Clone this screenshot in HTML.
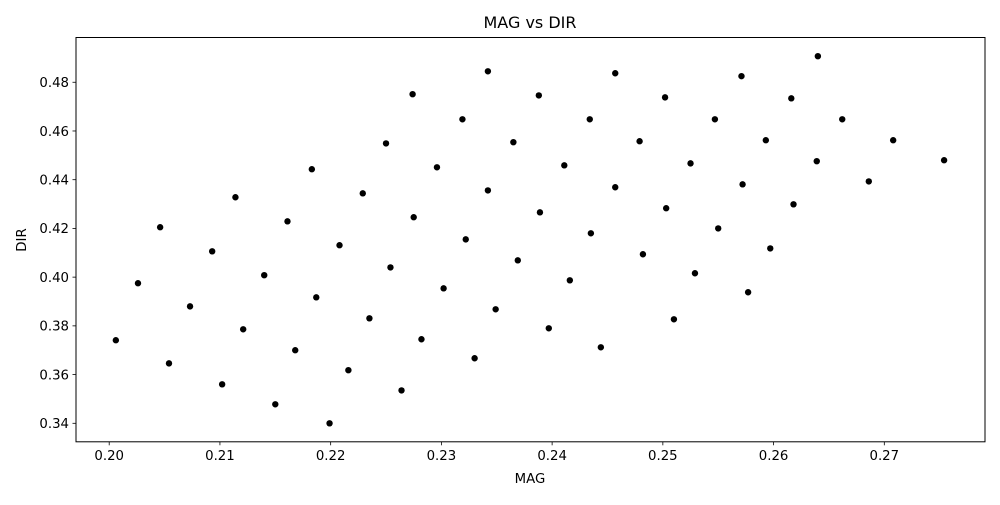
<!DOCTYPE html>
<html><head><meta charset="utf-8"><style>
html,body{margin:0;padding:0;background:#fff;}
svg text{font-family:"DejaVu Sans","Liberation Sans",sans-serif;fill:#000;}
</style></head>
<body>
<svg id="chart" width="1000" height="500" viewBox="0 0 1000 500" xmlns="http://www.w3.org/2000/svg">
<rect x="0" y="0" width="1000" height="500" fill="#fff"/>
<text x="530" y="28" font-size="16" text-anchor="middle">MAG vs DIR</text>
<g id="xticks"></g>
<g id="yticks"></g>
<g id="points"></g>
<rect x="76" y="37.5" width="909" height="404.3" fill="none" stroke="#000" stroke-width="1"/>
<text x="530" y="483" font-size="13.3" text-anchor="middle">MAG</text>
<text x="0" y="0" font-size="13.3" text-anchor="middle" transform="translate(26,240) rotate(-90)">DIR</text>
</svg>
<script>
const xTickValues = [0.20,0.21,0.22,0.23,0.24,0.25,0.26,0.27];
const xTickLabels = ["0.20","0.21","0.22","0.23","0.24","0.25","0.26","0.27"];
const yTickValues = [0.34,0.36,0.38,0.40,0.42,0.44,0.46,0.48];
const yTickLabels = ["0.34","0.36","0.38","0.40","0.42","0.44","0.46","0.48"];
const magValues = [0.2183,0.2229,0.2114,0.2161,0.2046,0.2208,0.2093,0.2140,0.2026,0.2187,0.2073,0.2235,0.2121,0.2006,0.2168,0.2054,0.2216,0.2102,0.2150,0.2199,
0.2342,0.2457,0.2274,0.2388,0.2502,0.2319,0.2434,0.2250,0.2365,0.2479,0.2525,0.2296,0.2411,0.2342,0.2457,0.2275,0.2389,0.2503,0.2322,0.2435,0.2254,0.2369,0.2482,0.2302,0.2416,0.2349,0.2510,0.2282,0.2397,0.2330,0.2444,0.2264,
0.2640,0.2571,0.2616,0.2547,0.2662,0.2593,0.2708,0.2639,0.2754,0.2572,0.2686,0.2618,0.2550,0.2597,0.2529,0.2577];
const dirValues = [0.4443,0.4344,0.4328,0.4229,0.4205,0.4131,0.4106,0.4008,0.3975,0.3917,0.3880,0.3831,0.3786,0.3741,0.3700,0.3646,0.3618,0.3560,0.3478,0.3400,
0.4845,0.4837,0.4751,0.4746,0.4738,0.4648,0.4648,0.4549,0.4554,0.4558,0.4467,0.4451,0.4459,0.4356,0.4369,0.4246,0.4266,0.4283,0.4155,0.4180,0.4040,0.4069,0.4094,0.3954,0.3987,0.3868,0.3827,0.3745,0.3790,0.3667,0.3712,0.3535,
0.4907,0.4825,0.4734,0.4648,0.4648,0.4562,0.4562,0.4476,0.4480,0.4381,0.4393,0.4299,0.4200,0.4118,0.4016,0.3938];

const NS = "http://www.w3.org/2000/svg";
function xScale(v){ return 109.2 + (v - 0.20) * 11073; }
function yScale(v){ return 423.3 - (v - 0.34) * 2436; }

const gx = document.getElementById('xticks');
xTickValues.forEach((v,i)=>{
  const x = xScale(v);
  const l = document.createElementNS(NS,'line');
  
  
  l.setAttribute('x1',x); l.setAttribute('x2',x); l.setAttribute('y1',441.8); l.setAttribute('y2',445.3);
  l.setAttribute('stroke','#000'); l.setAttribute('stroke-width','0.8');
  gx.appendChild(l);
  const t = document.createElementNS(NS,'text');
  
  
  t.setAttribute('x',x); t.setAttribute('y',460); t.setAttribute('font-size','13.3'); t.setAttribute('text-anchor','middle');
  t.textContent = xTickLabels[i];
  gx.appendChild(t);
});
const gy = document.getElementById('yticks');
yTickValues.forEach((v,i)=>{
  const y = yScale(v);
  const l = document.createElementNS(NS,'line');
  
  
  l.setAttribute('x1',72.5); l.setAttribute('x2',76); l.setAttribute('y1',y); l.setAttribute('y2',y);
  l.setAttribute('stroke','#000'); l.setAttribute('stroke-width','0.8');
  gy.appendChild(l);
  const t = document.createElementNS(NS,'text');
  
  
  t.setAttribute('x',69); t.setAttribute('y',y+4.8); t.setAttribute('font-size','13.3'); t.setAttribute('text-anchor','end');
  t.textContent = yTickLabels[i];
  gy.appendChild(t);
});
const gp = document.getElementById('points');
magValues.forEach((m,i)=>{
  const c = document.createElementNS(NS,'circle');
  
  
  c.setAttribute('cx', xScale(m)); c.setAttribute('cy', yScale(dirValues[i]));
  c.setAttribute('r', 3.2); c.setAttribute('fill', '#000');
  gp.appendChild(c);
});
</script>
</body></html>
